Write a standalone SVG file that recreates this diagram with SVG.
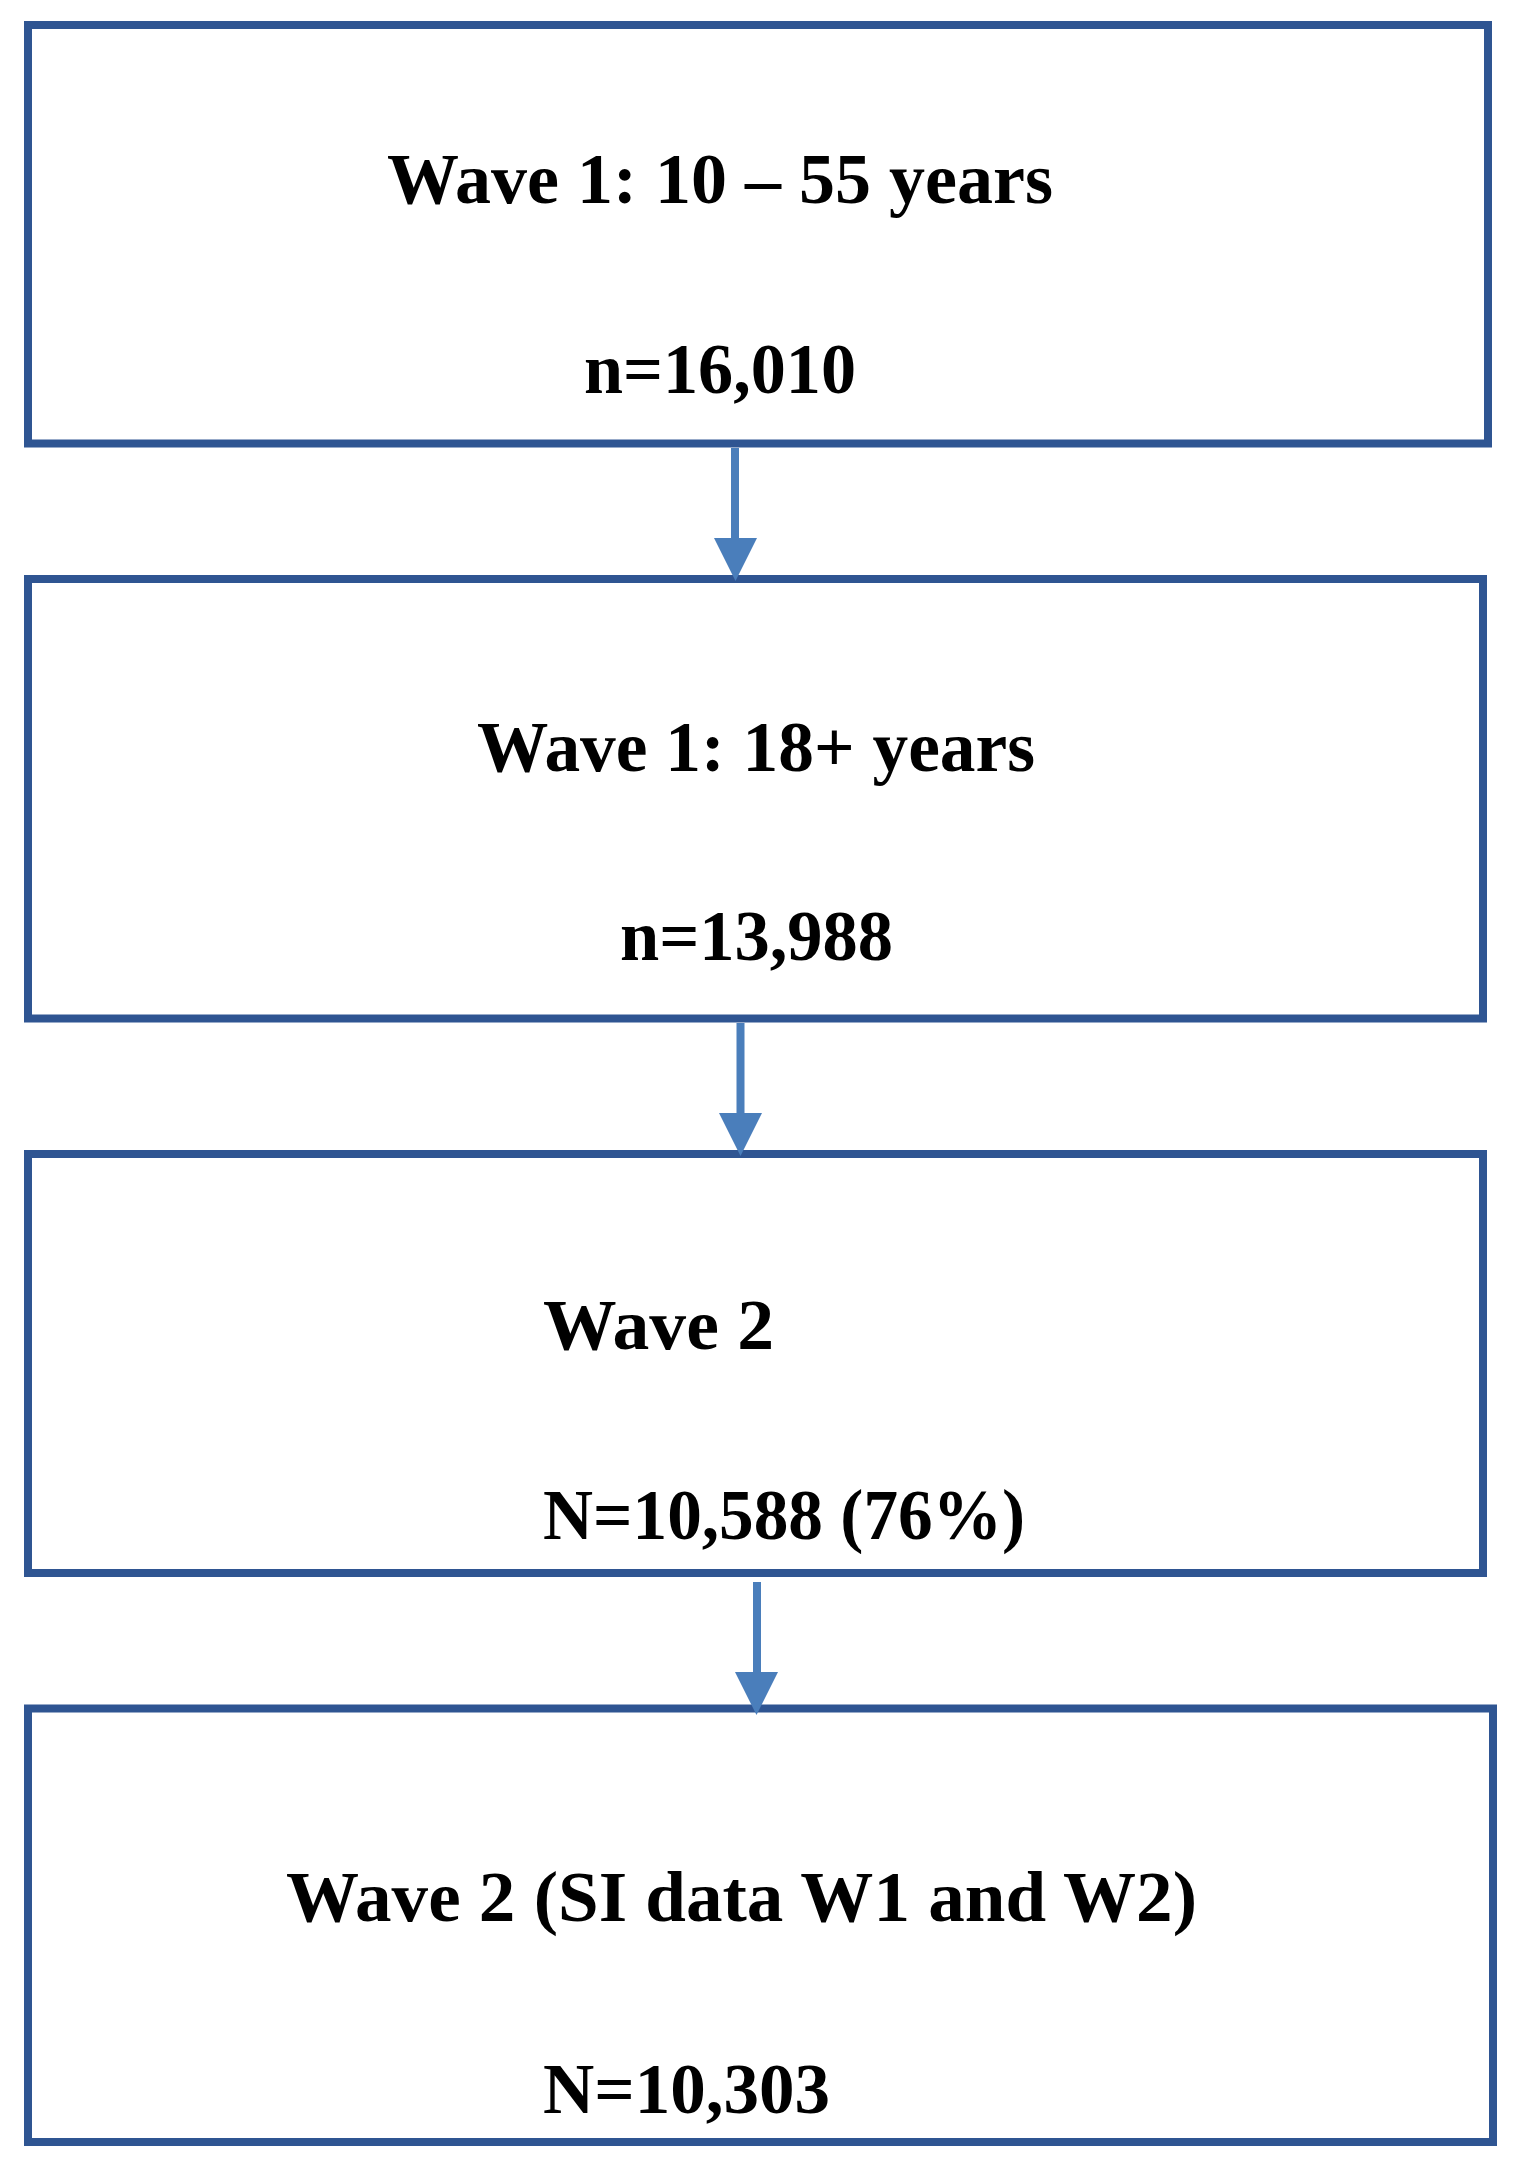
<svg xmlns="http://www.w3.org/2000/svg" width="1517" height="2164" viewBox="0 0 1517 2164">
<style>
.box{fill:#ffffff;stroke:#2F5592;stroke-width:8}
.t{font-family:"Liberation Serif","Times New Roman",serif;font-weight:bold;font-size:72px;fill:#000000}
.conn{stroke:#4A7EBB;stroke-width:8;fill:none}
.head{fill:#4A7EBB}
</style>
<rect width="1517" height="2164" fill="#ffffff"/>
<g id="node1">
<rect class="box" x="28" y="25" width="1460" height="418.5"/>
<text class="t" x="387" y="203" textLength="666" lengthAdjust="spacingAndGlyphs">Wave 1: 10 – 55 years</text>
<text class="t" x="584" y="393" textLength="272" lengthAdjust="spacingAndGlyphs">n=16,010</text>
</g>
<g id="node2">
<rect class="box" x="28" y="579" width="1455" height="439.5"/>
<text class="t" x="477" y="771" textLength="558" lengthAdjust="spacingAndGlyphs">Wave 1: 18+ years</text>
<text class="t" x="620" y="960" textLength="273" lengthAdjust="spacingAndGlyphs">n=13,988</text>
</g>
<g id="node3">
<rect class="box" x="28" y="1154" width="1455" height="419"/>
<text class="t" x="543" y="1349" textLength="231" lengthAdjust="spacingAndGlyphs">Wave 2</text>
<text class="t" x="543" y="1539" textLength="482" lengthAdjust="spacingAndGlyphs">N=10,588 (76%)</text>
</g>
<g id="node4">
<rect class="box" x="28" y="1708.5" width="1465" height="433.5"/>
<text class="t" x="286" y="1921" textLength="911" lengthAdjust="spacingAndGlyphs">Wave 2 (SI data W1 and W2)</text>
<text class="t" x="543" y="2113" textLength="287" lengthAdjust="spacingAndGlyphs">N=10,303</text>
</g>
<g id="connectors">
<line class="conn" x1="735" y1="448" x2="735" y2="540"/>
<polygon class="head" points="714,538 757,538 735.5,581"/>
<line class="conn" x1="740.5" y1="1023" x2="740.5" y2="1115"/>
<polygon class="head" points="719,1113 762,1113 740.5,1156"/>
<line class="conn" x1="757" y1="1582" x2="757" y2="1674"/>
<polygon class="head" points="735,1672 778,1672 756.5,1715"/>
</g>
</svg>
